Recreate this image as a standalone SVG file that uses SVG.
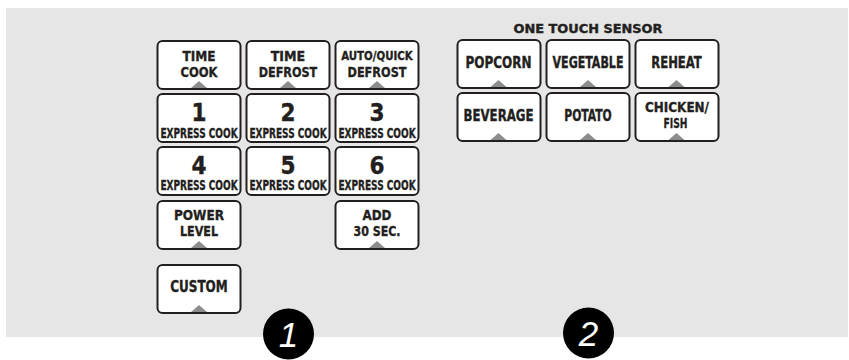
<svg xmlns="http://www.w3.org/2000/svg" width="849" height="360" viewBox="0 0 849 360">
<style>
.btn rect{fill:#fff;stroke:#231f20;stroke-width:2}
.tri{fill:#8c8c8c}
text{font-family:"Liberation Sans Narrow","DejaVu Sans Condensed","Liberation Sans",Arial,sans-serif;font-weight:bold;fill:#231f20;stroke:#231f20;stroke-width:0.35;text-anchor:middle;font-stretch:condensed}
.lb{font-size:14.5px}
.one{font-size:15px}
.sm{font-size:13px}
.num{font-size:24px}
.ex{font-size:14px}
.ttl{font-size:12px}
.cn{font-family:"Liberation Sans","DejaVu Sans",sans-serif;font-style:italic;font-weight:normal;font-size:35px;fill:#fff;stroke:none}
</style>
<defs>
<polygon id="tr" class="tri" points="-8,0 8,0 0,-7"/>
</defs>
<rect x="6" y="8" width="842" height="329" fill="#e6e6e6"/>
<g id="connectors"/>
<text class="ttl" x="588" y="33" textLength="149" lengthAdjust="spacingAndGlyphs">ONE TOUCH SENSOR</text>

<g id="time-cook" class="btn"><rect x="157.5" y="41" width="83" height="48" rx="5"/><text class="lb" x="199" y="60.5" textLength="33" lengthAdjust="spacingAndGlyphs">TIME</text><text class="lb" x="199" y="76.5" textLength="37" lengthAdjust="spacingAndGlyphs">COOK</text><use href="#tr" x="199" y="88"/></g>
<g id="time-defrost" class="btn"><rect x="246.5" y="41" width="83" height="48" rx="5"/><text class="lb" x="288" y="60.5" textLength="34.5" lengthAdjust="spacingAndGlyphs">TIME</text><text class="lb" x="288" y="76.5" textLength="58.5" lengthAdjust="spacingAndGlyphs">DEFROST</text><use href="#tr" x="288" y="88"/></g>
<g id="auto-quick-defrost" class="btn"><rect x="335.5" y="41" width="83" height="48" rx="5"/><text class="sm" x="377" y="60" textLength="71.5" lengthAdjust="spacingAndGlyphs">AUTO/QUICK</text><text class="lb" x="377" y="76.5" textLength="59" lengthAdjust="spacingAndGlyphs">DEFROST</text><use href="#tr" x="377" y="88"/></g>

<g id="btn-1" class="btn"><rect x="157.5" y="94" width="83" height="48" rx="5"/><text class="num" x="199" y="121">1</text><text class="ex" transform="translate(199 137.5) scale(0.75 1)" textLength="103" lengthAdjust="spacingAndGlyphs">EXPRESS COOK</text></g>
<g id="btn-2" class="btn"><rect x="246.5" y="94" width="83" height="48" rx="5"/><text class="num" x="288" y="121">2</text><text class="ex" transform="translate(288 137.5) scale(0.75 1)" textLength="103" lengthAdjust="spacingAndGlyphs">EXPRESS COOK</text></g>
<g id="btn-3" class="btn"><rect x="335.5" y="94" width="83" height="48" rx="5"/><text class="num" x="377" y="121">3</text><text class="ex" transform="translate(377 137.5) scale(0.75 1)" textLength="103" lengthAdjust="spacingAndGlyphs">EXPRESS COOK</text></g>

<g id="btn-4" class="btn"><rect x="157.5" y="147" width="83" height="48" rx="5"/><text class="num" x="199" y="174">4</text><text class="ex" transform="translate(199 190) scale(0.75 1)" textLength="103" lengthAdjust="spacingAndGlyphs">EXPRESS COOK</text></g>
<g id="btn-5" class="btn"><rect x="246.5" y="147" width="83" height="48" rx="5"/><text class="num" x="288" y="174">5</text><text class="ex" transform="translate(288 190) scale(0.75 1)" textLength="103" lengthAdjust="spacingAndGlyphs">EXPRESS COOK</text></g>
<g id="btn-6" class="btn"><rect x="335.5" y="147" width="83" height="48" rx="5"/><text class="num" x="377" y="174">6</text><text class="ex" transform="translate(377 190) scale(0.75 1)" textLength="103" lengthAdjust="spacingAndGlyphs">EXPRESS COOK</text></g>

<g id="power-level" class="btn"><rect x="157.5" y="201" width="83" height="48" rx="5"/><text class="lb" x="199" y="220" textLength="50" lengthAdjust="spacingAndGlyphs">POWER</text><text class="lb" x="199" y="236" textLength="38" lengthAdjust="spacingAndGlyphs">LEVEL</text><use href="#tr" x="199" y="248"/></g>
<g id="add-30-sec" class="btn"><rect x="335.5" y="201" width="83" height="48" rx="5"/><text class="lb" x="377" y="220" textLength="29" lengthAdjust="spacingAndGlyphs">ADD</text><text class="lb" x="377" y="236" textLength="47" lengthAdjust="spacingAndGlyphs">30 SEC.</text><use href="#tr" x="377" y="248"/></g>

<g id="custom" class="btn"><rect x="157.5" y="265" width="83" height="48" rx="5"/><text class="one" x="199" y="291.5" textLength="57.5" lengthAdjust="spacingAndGlyphs">CUSTOM</text><use href="#tr" x="199" y="312"/></g>

<g id="popcorn" class="btn"><rect x="457.5" y="40" width="83" height="48" rx="5"/><text class="one" x="498.5" y="67.5" textLength="66" lengthAdjust="spacingAndGlyphs">POPCORN</text><use href="#tr" x="498.5" y="87"/></g>
<g id="vegetable" class="btn"><rect x="546.5" y="40" width="83" height="48" rx="5"/><text class="one" x="588" y="67.5" textLength="71" lengthAdjust="spacingAndGlyphs">VEGETABLE</text><use href="#tr" x="588" y="87"/></g>
<g id="reheat" class="btn"><rect x="635.5" y="40" width="83" height="48" rx="5"/><text class="one" x="676.5" y="67.5" textLength="50.5" lengthAdjust="spacingAndGlyphs">REHEAT</text><use href="#tr" x="676.5" y="87"/></g>

<g id="beverage" class="btn"><rect x="457.5" y="93" width="83" height="48" rx="5"/><text class="one" x="498.5" y="121" textLength="70" lengthAdjust="spacingAndGlyphs">BEVERAGE</text><use href="#tr" x="498.5" y="140"/></g>
<g id="potato" class="btn"><rect x="546.5" y="93" width="83" height="48" rx="5"/><text class="one" x="588" y="121" textLength="47.5" lengthAdjust="spacingAndGlyphs">POTATO</text><use href="#tr" x="588" y="140"/></g>
<g id="chicken-fish" class="btn"><rect x="635.5" y="93" width="83" height="48" rx="5"/><text class="lb" x="677" y="112.3" textLength="64" lengthAdjust="spacingAndGlyphs">CHICKEN/</text><text class="lb" x="675.5" y="128" textLength="24" lengthAdjust="spacingAndGlyphs">FISH</text><use href="#tr" x="676.5" y="140"/></g>

<g id="callout-1"><circle cx="288.5" cy="334" r="25.5" fill="#000"/><text class="cn" x="288.5" y="347">1</text></g>
<g id="callout-2"><circle cx="588.5" cy="333" r="25.5" fill="#000"/><text class="cn" x="588.5" y="346">2</text></g>
</svg>
